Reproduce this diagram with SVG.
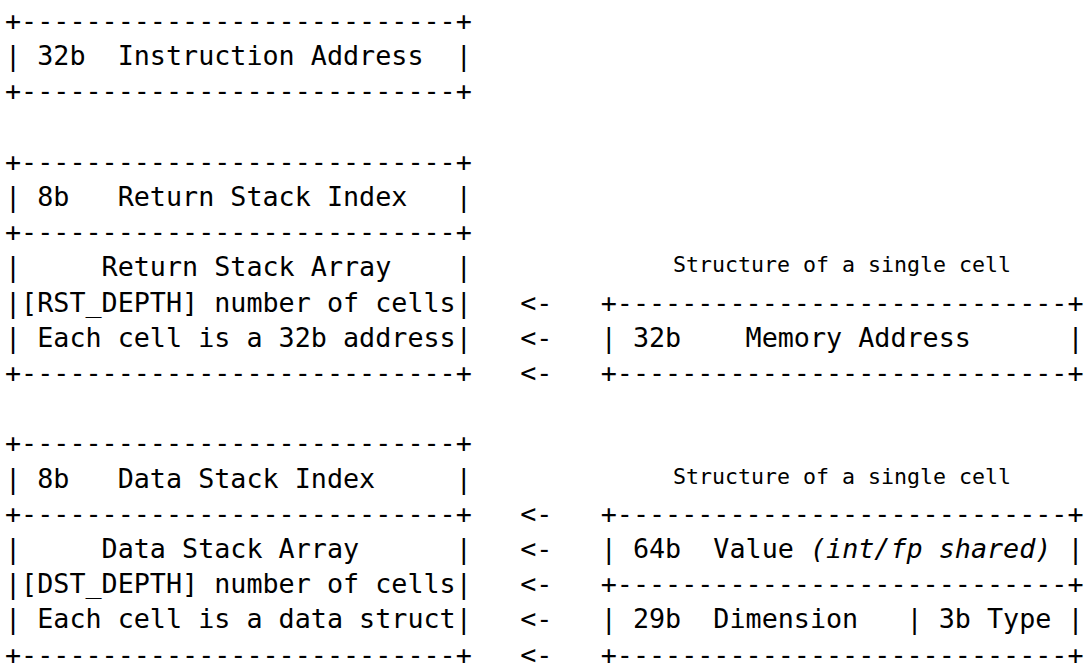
<svg xmlns="http://www.w3.org/2000/svg" width="1091" height="664" viewBox="0 0 1091 664" xml:space="preserve">
  <style>
    text { font-family: "DejaVu Sans Mono", "Liberation Mono", monospace; font-size: 26.74px; fill: #000; white-space: pre; }
    .cap { font-size: 21.6px; text-anchor: middle; }
    .it { font-style: italic; }
  </style>
  <rect width="1091" height="664" fill="#fff"/>

  <!-- column grid: x = 5 + 16.1 * col ; row baseline: y = 30 + 35.2 * row -->

  <g id="instruction-address">
    <text x="5" y="30">+---------------------------+</text>
    <text x="5" y="65.2">| 32b  Instruction Address  |</text>
    <text x="5" y="100.4">+---------------------------+</text>
  </g>

  <g id="return-stack">
    <text x="5" y="170.8">+---------------------------+</text>
    <text x="5" y="206">| 8b   Return Stack Index   |</text>
    <text x="5" y="241.2">+---------------------------+</text>
    <text x="5" y="276.4">|     Return Stack Array    |</text>
    <text x="5" y="311.6">|[RST_DEPTH] number of cells|</text>
    <text x="5" y="346.8">| Each cell is a 32b address|</text>
    <text x="5" y="382">+---------------------------+</text>
  </g>

  <g id="return-cell">
    <text class="cap" x="842" y="272.4">Structure of a single cell</text>
    <text x="600.7" y="311.6">+----------------------------+</text>
    <text x="600.7" y="346.8">| 32b    Memory Address      |</text>
    <text x="600.7" y="382">+----------------------------+</text>
  </g>

  <g id="data-stack">
    <text x="5" y="452.4">+---------------------------+</text>
    <text x="5" y="487.6">| 8b   Data Stack Index     |</text>
    <text x="5" y="522.8">+---------------------------+</text>
    <text x="5" y="558">|     Data Stack Array      |</text>
    <text x="5" y="593.2">|[DST_DEPTH] number of cells|</text>
    <text x="5" y="628.4">| Each cell is a data struct|</text>
    <text x="5" y="663.6">+---------------------------+</text>
  </g>

  <g id="data-cell">
    <text class="cap" x="842" y="483.6">Structure of a single cell</text>
    <text x="600.7" y="522.8">+----------------------------+</text>
    <text x="600.7" y="558">| 64b  Value <tspan class="it">(int/fp shared)</tspan> |</text>
    <text x="600.7" y="593.2">+----------------------------+</text>
    <text x="600.7" y="628.4">| 29b  Dimension   | 3b Type |</text>
    <text x="600.7" y="663.6">+----------------------------+</text>
  </g>

  <g id="connectors">
    <text x="520.2" y="311.6">&lt;-</text>
    <text x="520.2" y="346.8">&lt;-</text>
    <text x="520.2" y="382">&lt;-</text>
    <text x="520.2" y="522.8">&lt;-</text>
    <text x="520.2" y="558">&lt;-</text>
    <text x="520.2" y="593.2">&lt;-</text>
    <text x="520.2" y="628.4">&lt;-</text>
    <text x="520.2" y="663.6">&lt;-</text>
  </g>
</svg>
